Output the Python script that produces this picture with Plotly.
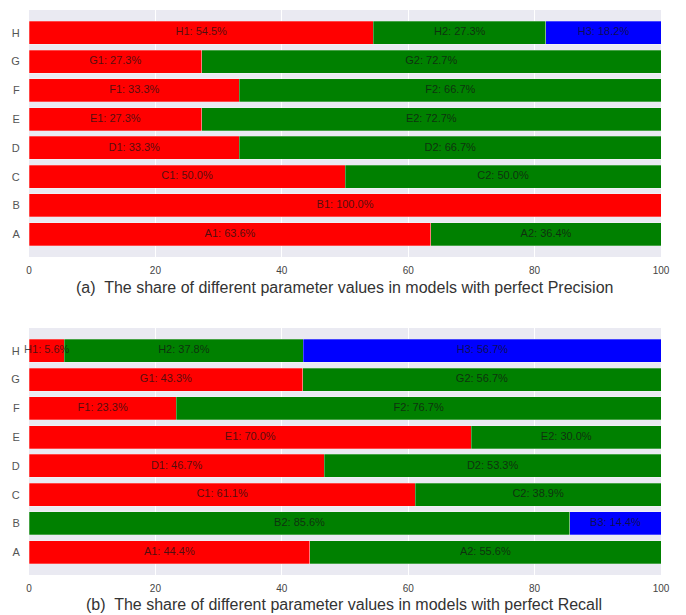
import plotly.graph_objects as go

categories = ["A", "B", "C", "D", "E", "F", "G", "H"]

# (a) Precision shares (%), per parameter value index 1, 2, 3
prec_v1 = [63.6, 100.0, 50.0, 33.3, 27.3, 33.3, 27.3, 54.5]
prec_v2 = [36.4, 0.0, 50.0, 66.7, 72.7, 66.7, 72.7, 27.3]
prec_v3 = [0.0, 0.0, 0.0, 0.0, 0.0, 0.0, 0.0, 18.2]

# (b) Recall shares (%)
rec_v1 = [44.4, 0.0, 61.1, 46.7, 70.0, 23.3, 43.3, 5.6]
rec_v2 = [55.6, 85.6, 38.9, 53.3, 30.0, 76.7, 56.7, 37.8]
rec_v3 = [0.0, 14.4, 0.0, 0.0, 0.0, 0.0, 0.0, 56.7]

xticks = [0, 20, 40, 60, 80, 100]
colors = ["#ff0000", "#008000", "#0000ff"]
caption_a = "(a)  The share of different parameter values in models with perfect Precision"
caption_b = "(b)  The share of different parameter values in models with perfect Recall"

# page body has an 8px margin; figure sized to fit the window exactly
OFF = 8
W, H = 686 - OFF, 615 - OFF
FONT = "Liberation Sans, Arial, sans-serif"

fig = go.Figure()


def add_panel(series, yaxis, xaxis):
    base = [0.0] * len(categories)
    lx, ly, lt = [], [], []
    for idx, vals in enumerate(series):
        fig.add_trace(go.Bar(
            y=categories, x=vals, orientation="h",
            marker=dict(color=colors[idx], line=dict(width=0.8, color="rgba(255,255,255,0.35)")),
            width=0.8,
            xaxis=xaxis, yaxis=yaxis, showlegend=False, hoverinfo="skip",
        ))
        for i, (c, v) in enumerate(zip(categories, vals)):
            if v > 0:
                lx.append(base[i] + v / 2)
                ly.append(c)
                lt.append(f"{c}{idx+1}: {v:.1f}%")
            base[i] += v
    fig.add_trace(go.Scatter(
        x=lx, y=ly, text=lt, mode="text", textposition="middle center",
        textfont=dict(family=FONT, size=11, color="rgba(20,20,20,0.75)"),
        xaxis=xaxis, yaxis=yaxis, showlegend=False, hoverinfo="skip", cliponaxis=False,
    ))


add_panel([prec_v1, prec_v2, prec_v3], "y", "x")
add_panel([rec_v1, rec_v2, rec_v3], "y2", "x2")


def xd(l_px, r_px):
    return [(l_px - OFF) / W, (r_px - OFF) / W]


def yd(top_px, bot_px):
    return [1 - (bot_px - OFF) / H, 1 - (top_px - OFF) / H]


def yp(px):
    return 1 - (px - OFF) / H


axis_x = dict(range=[0, 100], tickvals=xticks, ticktext=[str(t) for t in xticks],
              showgrid=True, gridcolor="white", gridwidth=1, zeroline=False,
              showline=False, ticks="outside", ticklen=4, tickcolor="rgba(0,0,0,0)",
              automargin=False,
              tickfont=dict(family=FONT, size=10, color="#444"))
axis_y = dict(range=[-0.79, 7.79], categoryorder="array", categoryarray=categories,
              showgrid=False, zeroline=False, showline=False,
              ticks="outside", ticklen=6, tickcolor="rgba(0,0,0,0)", automargin=False,
              tickfont=dict(family=FONT, size=11, color="#555"))

fig.update_layout(
    width=W, height=H,
    margin=dict(l=0, r=0, t=0, b=0, autoexpand=False),
    paper_bgcolor="white", plot_bgcolor="#EAEAF2",
    barmode="stack", bargap=0.2,
    xaxis=dict(domain=xd(29, 661), anchor="y", **axis_x),
    yaxis=dict(domain=yd(10, 257), anchor="x", **axis_y),
    xaxis2=dict(domain=xd(29, 661), anchor="y2", **axis_x),
    yaxis2=dict(domain=yd(328, 575), anchor="x2", **axis_y),
    annotations=[
        dict(text=caption_a, xref="paper", yref="paper", x=(344 - OFF) / W, y=yp(287),
             xanchor="center", yanchor="middle", showarrow=False,
             font=dict(family=FONT, size=16, color="#333")),
        dict(text=caption_b, xref="paper", yref="paper", x=(344 - OFF) / W, y=yp(604),
             xanchor="center", yanchor="middle", showarrow=False,
             font=dict(family=FONT, size=16, color="#333")),
    ],
)

fig.write_html("out.html")
